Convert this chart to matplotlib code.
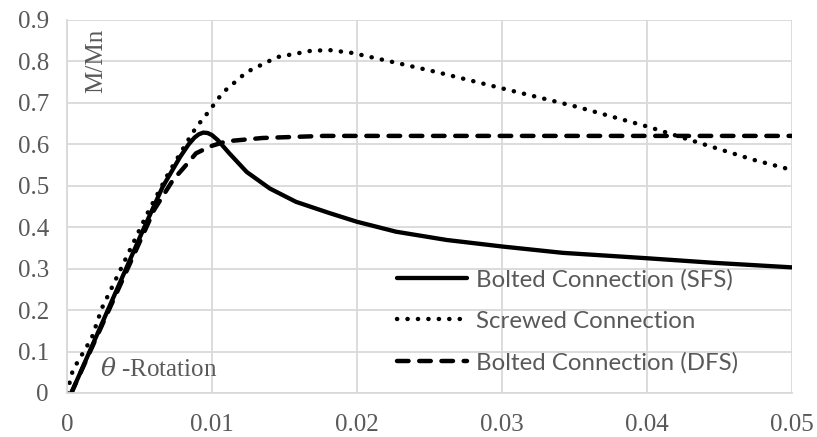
import matplotlib.pyplot as plt

# 数据
sfs_x = [0.0003, 0.0053, 0.0066, 0.0078, 0.0084, 0.0088, 0.0091, 0.0094, 0.0097, 0.0100,
         0.0104, 0.0112, 0.0124, 0.0140, 0.0158, 0.0181, 0.0200, 0.0227, 0.0262, 0.0301,
         0.0342, 0.0400, 0.0446, 0.0500]
sfs_y = [0.0, 0.397, 0.497, 0.569, 0.600, 0.616, 0.624, 0.628, 0.627, 0.622,
         0.610, 0.578, 0.533, 0.493, 0.461, 0.434, 0.413, 0.389, 0.369, 0.353,
         0.338, 0.325, 0.314, 0.303]

scr_x = [0.0000, 0.0004, 0.0017, 0.0024, 0.0040, 0.0055, 0.0070, 0.0085, 0.0089, 0.0094,
         0.0099, 0.0103, 0.0108, 0.0124, 0.0145, 0.0168, 0.0181, 0.0197, 0.0225, 0.0255,
         0.0301, 0.0352, 0.0401, 0.0430, 0.0473, 0.0500]
scr_y = [0.0, 0.055, 0.132, 0.204, 0.320, 0.430, 0.530, 0.618, 0.640, 0.662,
         0.684, 0.704, 0.726, 0.774, 0.810, 0.825, 0.827, 0.820, 0.798, 0.774,
         0.734, 0.690, 0.642, 0.610, 0.563, 0.538]

dfs_x = [0.0003, 0.0057, 0.0060, 0.0073, 0.0083, 0.0089, 0.0099, 0.0110, 0.0135, 0.0177,
         0.0250, 0.0350, 0.0500]
dfs_y = [0.0, 0.417, 0.441, 0.513, 0.553, 0.578, 0.595, 0.607, 0.615, 0.620,
         0.620, 0.620, 0.620]

gray = '#595959'
grid_c = '#d9d9d9'

plt.rcParams['font.family'] = 'Liberation Serif'
plt.rcParams['mathtext.fontset'] = 'dejavuserif'

fig = plt.figure(figsize=(8.17, 4.37), dpi=100)
ax = fig.add_axes([0.082, 0.1007, 0.887, 0.854])

ax.plot(sfs_x, sfs_y, color='black', lw=3.1, solid_capstyle='round',
        solid_joinstyle='round', label='Bolted Connection (SFS)')
ax.plot(scr_x, scr_y, color='black', lw=3.2, linestyle=(0, (0.05, 2.3)),
        dash_capstyle='round', label='Screwed Connection')
ax.plot(dfs_x, dfs_y, color='black', lw=3.2, linestyle=(0, (2.6, 2.4)),
        dash_capstyle='round', label='Bolted Connection (DFS)')

ax.set_xlim(0, 0.05)
ax.set_ylim(0, 0.9)
ax.set_xticks([0, 0.01, 0.02, 0.03, 0.04, 0.05])
ax.set_xticklabels(['0', '0.01', '0.02', '0.03', '0.04', '0.05'])
ax.set_yticks([i / 10 for i in range(10)])
ax.set_yticklabels(['0'] + ['0.%d' % i for i in range(1, 10)])

ax.grid(True, color=grid_c, lw=1.3)
ax.set_axisbelow(True)
for s in ['top', 'right']:
    ax.spines[s].set_visible(False)
for s in ['left', 'bottom']:
    ax.spines[s].set_color(grid_c)
    ax.spines[s].set_linewidth(1.3)

ax.tick_params(length=0, labelsize=18, labelcolor=gray)
ax.tick_params(axis='x', pad=15)
ax.tick_params(axis='y', pad=13)

ax.text(0.041, 0.977, 'M/Mn', transform=ax.transAxes, rotation=90,
        ha='center', va='top', fontsize=18, color=gray)
ax.text(0.0455, 0.064, r'$\theta$ -Rotation', transform=ax.transAxes,
        ha='left', va='center', fontsize=18, color=gray)

leg = ax.legend(loc='upper left', bbox_to_anchor=(0.456, 0.333), frameon=False,
                handlelength=2.9, handletextpad=0.35, labelspacing=0.85,
                prop={'family': 'Lato', 'size': 17.3}, labelcolor=gray,
                borderaxespad=0, borderpad=0)

plt.savefig('out.png', dpi=100)
